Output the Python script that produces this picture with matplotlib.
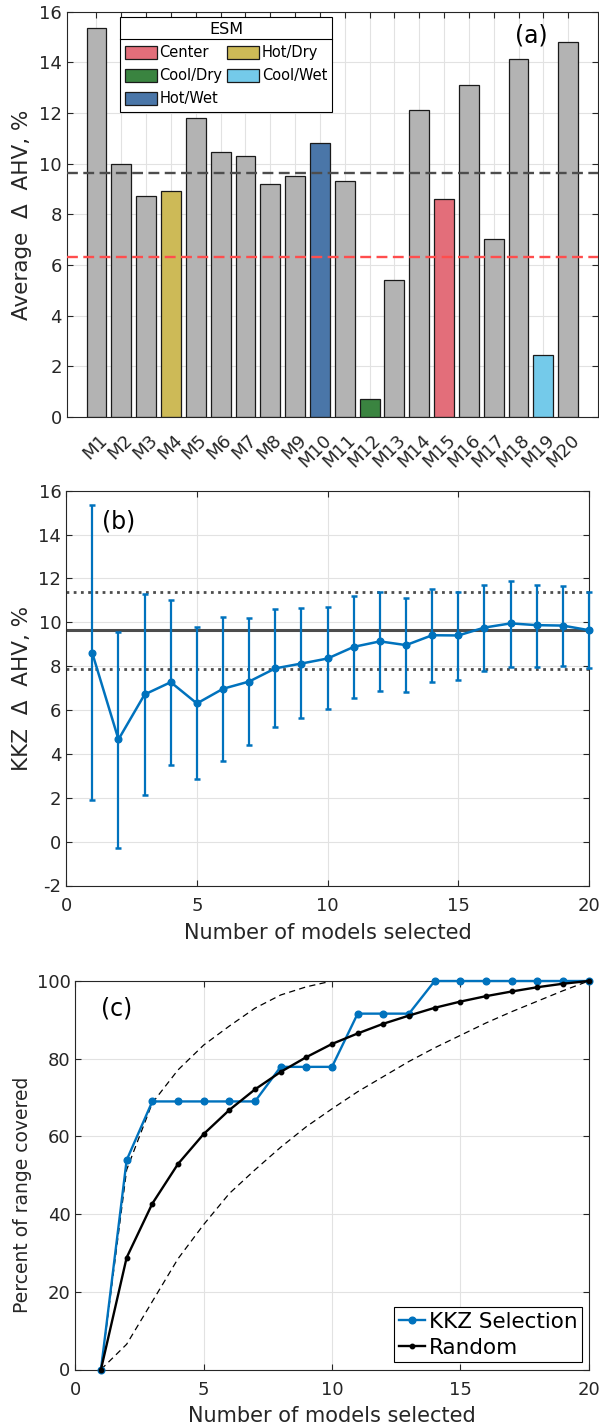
import matplotlib
matplotlib.use("Agg")
import matplotlib.pyplot as plt
from matplotlib.patches import Patch
from matplotlib.lines import Line2D
import matplotlib.transforms as mtransforms

plt.rcParams['font.family'] = ['DejaVu Sans']
plt.rcParams['axes.unicode_minus'] = False

# ---------------- data ----------------
models = ['M1', 'M2', 'M3', 'M4', 'M5', 'M6', 'M7', 'M8', 'M9', 'M10',
          'M11', 'M12', 'M13', 'M14', 'M15', 'M16', 'M17', 'M18', 'M19', 'M20']
avg_ahv = [15.35, 10.00, 8.71, 8.91, 11.82, 10.46, 10.30, 9.20, 9.51, 10.82,
           9.33, 0.71, 5.40, 12.12, 8.60, 13.09, 7.01, 14.12, 2.45, 14.82]
esm_group = ['', '', '', 'Hot/Dry', '', '', '', '', '', 'Hot/Wet',
             '', 'Cool/Dry', '', '', 'Center', '', '', '', 'Cool/Wet', '']
legend_order = ['Center', 'Cool/Dry', 'Hot/Wet', 'Hot/Dry', 'Cool/Wet']
all_mean = 9.64
esm_mean = 6.31

n_selected = list(range(1, 21))
kkz_mean = [8.59, 4.66, 6.71, 7.27, 6.30, 6.97, 7.30, 7.90, 8.12, 8.35,
            8.88, 9.13, 8.96, 9.41, 9.40, 9.76, 9.95, 9.87, 9.85, 9.64]
kkz_upper = [15.34, 9.57, 11.31, 11.01, 9.78, 10.23, 10.19, 10.60, 10.64, 10.69,
             11.19, 11.36, 11.10, 11.51, 11.40, 11.72, 11.89, 11.72, 11.65, 11.36]
kkz_lower = [1.88, -0.31, 2.11, 3.48, 2.84, 3.66, 4.39, 5.21, 5.62, 6.03,
             6.57, 6.89, 6.80, 7.30, 7.39, 7.76, 7.97, 7.97, 8.03, 7.90]
ens_mean = 9.64
ens_upper = 11.36
ens_lower = 7.88

kkz_cov = [0, 53.9, 69.0, 69.0, 69.0, 69.0, 69.0, 77.9, 77.9, 77.9,
           91.6, 91.6, 91.6, 100, 100, 100, 100, 100, 100, 100]
random_cov = [0, 28.8, 42.7, 52.9, 60.6, 66.8, 72.1, 76.6, 80.4, 83.8,
              86.5, 89.0, 91.1, 93.1, 94.7, 96.1, 97.3, 98.4, 99.3, 100]
upper_bound = [0, 51.4, 68.6, 77.1, 83.5, 88.4, 93.0, 96.4, 98.5, 100,
               100, 100, 100, 100, 100, 100, 100, 100, 100, 100]
lower_bound = [0, 6.5, 17.5, 28.5, 37.3, 45.3, 51.4, 57.2, 62.5, 67.1,
               71.5, 75.4, 79.3, 82.8, 86.0, 89.2, 92.1, 94.8, 97.5, 100]

# ---------------- style ----------------
W, H = 599, 1426
fig = plt.figure(figsize=(W / 100, H / 100), dpi=100)
TXT = '#262626'
GRID = '#e2e2e2'
BLUE = '#0072BD'
group_colors = {'Center': '#E36E7A', 'Hot/Dry': '#CDBA57', 'Cool/Dry': '#3A8440',
                'Cool/Wet': '#74CAEA', 'Hot/Wet': '#4A76A8'}
GRAY = '#b3b3b3'
TICK_FS = 13
LAB_FS = 15


def px_axes(l, t, r, b):
    return fig.add_axes([l / W, 1 - b / H, (r - l) / W, (b - t) / H])


def style(ax):
    for s in ax.spines.values():
        s.set_color(TXT)
        s.set_linewidth(0.8)
    ax.tick_params(direction='in', length=4, width=0.8, colors=TXT,
                   top=True, right=True, labelsize=TICK_FS)
    ax.tick_params(axis='y', pad=3.5)
    ax.tick_params(axis='x', pad=8)
    ax.grid(True, color=GRID, lw=0.8)
    ax.set_axisbelow(True)


axA = px_axes(66.7, 11.7, 598, 417)
axB = px_axes(66.2, 490.7, 589, 885.5)
axC = px_axes(75.3, 981, 588.7, 1369.5)

# ---------------- panel (a) ----------------
style(axA)
bar_colors = [group_colors.get(g, GRAY) for g in esm_group]
axA.bar(n_selected, avg_ahv, width=0.8, color=bar_colors, edgecolor='#1a1a1a',
        linewidth=0.9, zorder=2)
axA.axhline(all_mean, color='#4d4d4d', lw=1.7, dashes=(4.6, 2.3), zorder=3)
axA.axhline(esm_mean, color='#ff4d4d', lw=1.7, dashes=(4.6, 2.3), zorder=3)
axA.set_xlim(-0.2, 21.2)
axA.set_ylim(0, 16)
axA.set_yticks(range(0, 17, 2))
axA.set_xticks(n_selected)
axA.set_xticklabels(models)
axA.tick_params(axis='x', pad=10)
offset = mtransforms.ScaledTranslation(2 / 100, 0, fig.dpi_scale_trans)
for lab in axA.get_xticklabels():
    lab.set_rotation(45)
    lab.set_ha('right')
    lab.set_va('top')
    lab.set_rotation_mode('anchor')
    lab.set_transform(lab.get_transform() + offset)
axA.set_ylabel('Average  Δ  AHV, %', fontsize=LAB_FS + 0.5, color=TXT)
axA.yaxis.set_label_coords(-0.0653, 0.5)
axA.text(0.875, 0.9425, '(a)', transform=axA.transAxes, ha='center', va='center',
         fontsize=17, color='black')

handles = [Patch(facecolor=group_colors[g], edgecolor='#1a1a1a', linewidth=0.9, label=g)
           for g in legend_order]
legA = axA.legend(handles=handles, ncol=2, title='ESM', fontsize=10.5, title_fontsize=11.5,
                  loc='upper left', bbox_to_anchor=(0.0994, 0.9862), borderaxespad=0,
                  fancybox=False, framealpha=1, edgecolor='black',
                  handlelength=2.2, handleheight=1.0, handletextpad=0.2,
                  columnspacing=0.3, labelspacing=0.55, borderpad=0.35)
legA.get_frame().set_linewidth(0.8)
legA.set_zorder(5)

# ---------------- panel (b) ----------------
style(axB)
axB.axhline(ens_mean, color='#4d4d4d', lw=2.2, zorder=2)
axB.axhline(ens_upper, color='#4d4d4d', lw=2.0, ls=(0, (1.0, 1.6)), zorder=2)
axB.axhline(ens_lower, color='#4d4d4d', lw=2.0, ls=(0, (1.0, 1.6)), zorder=2)
yerr = [[m - lo for m, lo in zip(kkz_mean, kkz_lower)],
        [up - m for m, up in zip(kkz_mean, kkz_upper)]]
eb = axB.errorbar(n_selected, kkz_mean, yerr=yerr, color=BLUE, lw=1.8, marker='o',
                  ms=4.8, capsize=2.2, capthick=1.8, elinewidth=1.6, zorder=3)
for art in eb.lines[0:1] + tuple(eb.lines[1]) + tuple(eb.lines[2]):
    art.set_clip_on(False)
axB.set_xlim(0, 20)
axB.set_ylim(-2, 16)
axB.set_xticks(range(0, 21, 5))
axB.set_yticks(range(-2, 17, 2))
axB.set_xlabel('Number of models selected', fontsize=LAB_FS, color=TXT)
axB.xaxis.set_label_coords(0.5, -0.094)
axB.set_ylabel('KKZ  Δ  AHV, %', fontsize=LAB_FS + 0.5, color=TXT)
axB.yaxis.set_label_coords(-0.0654, 0.5)
axB.text(0.0998, 0.9215, '(b)', transform=axB.transAxes, ha='center', va='center',
         fontsize=17, color='black')

# ---------------- panel (c) ----------------
style(axC)
axC.plot(n_selected, upper_bound, color='black', lw=0.9, dashes=(5.0, 3.4), zorder=2)
axC.plot(n_selected, lower_bound, color='black', lw=0.9, dashes=(5.0, 3.4), zorder=2)
axC.plot(n_selected, kkz_cov, color=BLUE, lw=1.7, marker='o', ms=4.8,
         label='KKZ Selection', clip_on=False, zorder=3)
axC.plot(n_selected, random_cov, color='black', lw=1.7, marker='o', ms=3.2,
         label='Random', clip_on=False, zorder=4)
axC.set_xlim(0, 20)
axC.set_ylim(0, 100)
axC.set_xticks(range(0, 21, 5))
axC.set_yticks(range(0, 101, 20))
axC.set_xlabel('Number of models selected', fontsize=LAB_FS, color=TXT)
axC.xaxis.set_label_coords(0.5, -0.094)
axC.set_ylabel('Percent of range covered', fontsize=13.5, color=TXT)
axC.yaxis.set_label_coords(-0.0843, 0.45)
axC.text(0.0806, 0.9297, '(c)', transform=axC.transAxes, ha='center', va='center',
         fontsize=17, color='black')
legC = axC.legend(loc='lower right', bbox_to_anchor=(0.9875, 0.0185), borderaxespad=0,
                  fontsize=15.5, fancybox=False, framealpha=1, edgecolor='black',
                  handlelength=1.25, handletextpad=0.16, borderpad=0.22,
                  labelspacing=0.28)
legC.get_frame().set_linewidth(0.8)

# separator line under legend title in (a)
fig.canvas.draw()
r = fig.canvas.get_renderer()
tb = legA.get_title().get_window_extent(r)
fb = legA.get_frame().get_window_extent(r)
inv = fig.transFigure.inverted()
y_sep = tb.y0 - 2
(x0f, yf), (x1f, _) = inv.transform([(fb.x0, y_sep), (fb.x1, y_sep)])
fig.add_artist(Line2D([x0f, x1f], [yf, yf], transform=fig.transFigure,
                      color='black', lw=0.8, zorder=10))

fig.savefig('out.png', dpi=100)
